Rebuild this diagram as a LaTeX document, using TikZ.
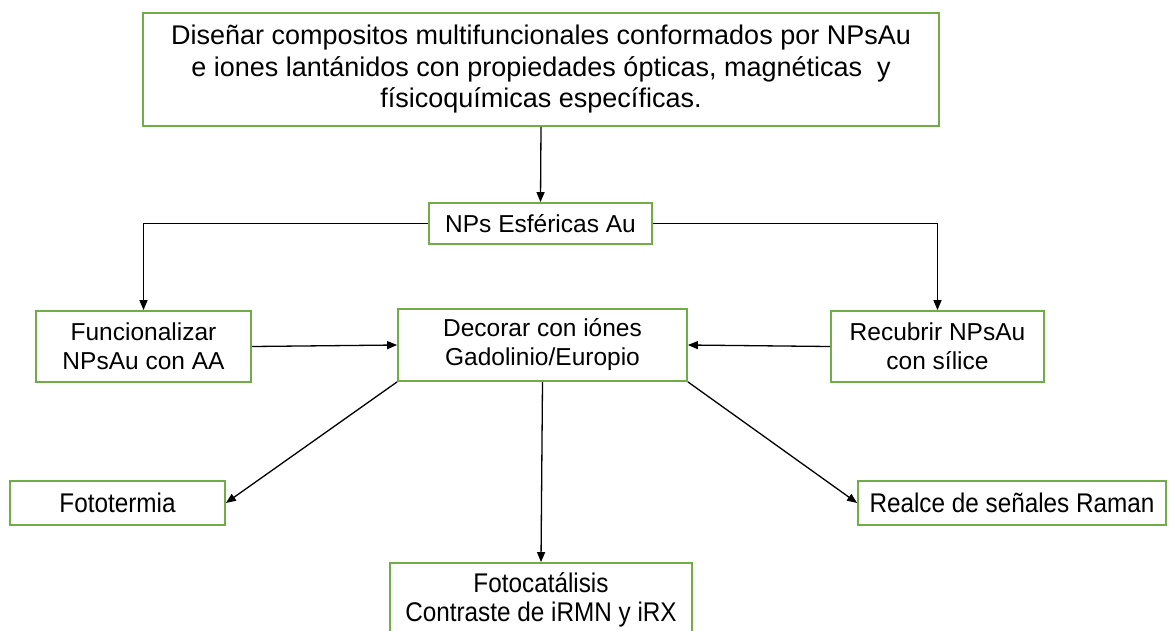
\documentclass[tikz,border=0pt]{standalone}
\usepackage{fontspec}
\setmainfont{Liberation Sans}
\newfontfamily\estrecha[FakeStretch=0.9]{Liberation Sans}
\usetikzlibrary{arrows.meta}
\definecolor{verde}{RGB}{112,173,71}

\begin{document}
\begin{tikzpicture} [x=1pt, y=-1pt,
		caja/.style={draw=verde, line width=1.8pt, fill=white, inner sep=0pt, align=center, font=\fontsize{24.5}{29}\selectfont},
		angosta/.style={caja, font=\estrecha\fontsize{27}{29}\selectfont},
		flecha/.style={-{Triangle[length=10pt,width=8pt]}, line width=1.3pt}]
		\useasboundingbox (0,0) rectangle (1170,630);
		\node [caja, minimum width=796, minimum height=113, font=\fontsize{27}{31.5}\selectfont] (objetivo) at (541,69.5) {Diseñar compositos multifuncionales conformados por NPsAu\\e iones lantánidos con propiedades ópticas, magnéticas~ y\\físicoquímicas específicas.};
		\node [caja, minimum width=223, minimum height=41] (esfericas) at (540.5,223.5) {NPs Esféricas Au};
		\node [caja, minimum width=215, minimum height=71] (funcional) at (143.5,346.5) {Funcionalizar\\NPsAu con AA};
		\node [caja, minimum width=289, minimum height=72] (decorar) at (542.5,345) {Decorar con iónes\\Gadolinio/Europio};
		\node [caja, minimum width=213, minimum height=71] (recubrir) at (937.5,346.5) {Recubrir NPsAu\\con sílice};
		\node [angosta, minimum width=215, minimum height=44] (fototermia) at (117.5,503) {Fototermia};
		\node [angosta, minimum width=308, minimum height=44] (raman) at (1012,503) {Realce de señales Raman};
		\node [angosta, minimum width=302, minimum height=74] (fotocat) at (541,600) {Fotocatálisis\\Contraste de iRMN y iRX};
		% conectores
		\draw [flecha] (objetivo.south) -- (esfericas.north);
		\draw [flecha] (esfericas.west) -| (funcional.north);
		\draw [flecha] (esfericas.east) -| (recubrir.north);
		\draw [flecha] (funcional.east) -- (decorar.west);
		\draw [flecha] (recubrir.west) -- (decorar.east);
		\draw [flecha] (decorar.south west) -- (fototermia.east);
		\draw [flecha] (decorar.south) -- (fotocat.north);
		\draw [flecha] (decorar.south east) -- (raman.west);
		\end{tikzpicture}
\end{document}
